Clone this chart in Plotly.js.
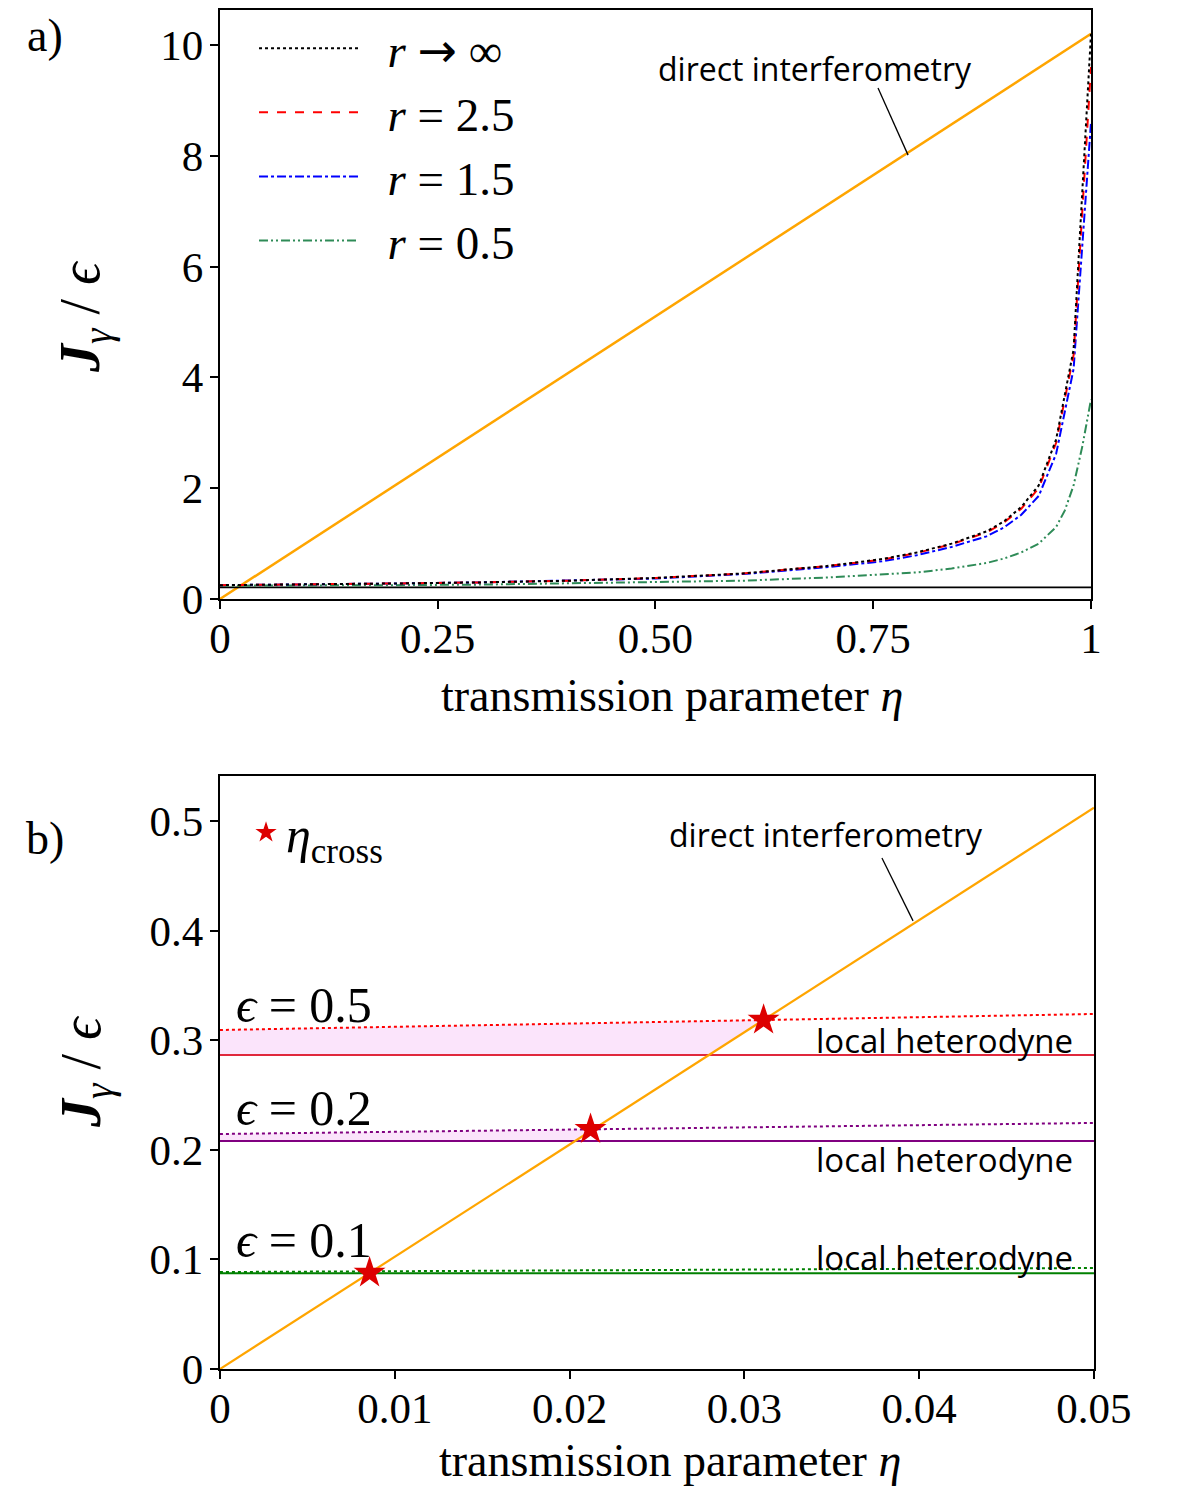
<!DOCTYPE html>
<html>
<head>
<meta charset="utf-8">
<script src="https://cdn.plot.ly/plotly-3.0.1.min.js"></script>
<style>
  html, body { margin: 0; padding: 0; background: #fff; }
  #plot { width: 1196px; height: 1486px; }
</style>
</head>
<body>
<div id="plot"></div>
<script>
// ---- panel a) data (read off the figure) ----
const etaA = [0, 0.1, 0.2, 0.3, 0.4, 0.5, 0.6, 0.7, 0.76, 0.8, 0.84, 0.88, 0.9, 0.92, 0.94, 0.96, 0.98, 1.0];
const rInf = [0.25, 0.26, 0.28, 0.30, 0.33, 0.38, 0.46, 0.60, 0.72, 0.84, 1.0, 1.22, 1.40, 1.66, 2.05, 2.88, 4.5, 10.2];
const r25  = [0.25, 0.26, 0.28, 0.30, 0.33, 0.38, 0.46, 0.60, 0.71, 0.83, 0.99, 1.20, 1.38, 1.63, 2.0, 2.82, 4.4, 9.6];
const r15  = [0.25, 0.26, 0.28, 0.30, 0.33, 0.37, 0.45, 0.58, 0.68, 0.79, 0.94, 1.13, 1.29, 1.52, 1.86, 2.62, 4.15, 8.6];
const etaG = [0, 0.1, 0.2, 0.3, 0.4, 0.5, 0.6, 0.7, 0.76, 0.8, 0.84, 0.88, 0.9, 0.92, 0.94, 0.96, 0.97, 0.98, 0.99, 1.0];
const r05  = [0.24, 0.24, 0.25, 0.26, 0.28, 0.30, 0.33, 0.39, 0.44, 0.48, 0.55, 0.65, 0.73, 0.84, 1.0, 1.3, 1.6, 2.05, 2.75, 3.6];
const directEtaA = [0, 1];
const directA = [0, 10.2];
const localA = [0.21, 0.21];

// ---- panel b) data ----
const etaB = [0, 0.05];
const directB = [0, 0.512];
const dot05 = [0.3093, 0.3239], solid05 = [0.2865, 0.2865];
const dot02 = [0.2144, 0.2245], solid02 = [0.208, 0.208];
const dot01 = [0.0885, 0.0922], solid01 = [0.0873, 0.0873];
const fill05x = [0, 0.02798, 0.0311, 0], fill05y = [0.2865, 0.2865, 0.3184, 0.3093];
const fill02x = [0, 0.0203, 0.0212, 0], fill02y = [0.208, 0.208, 0.2187, 0.2144];
const crossEta = [0.0311, 0.0212, 0.00856];
const crossVal = [0.3184, 0.2187, 0.0877];

const serif = 'Liberation Serif, Times New Roman, serif';
const sans = 'Open Sans, Lato, sans-serif';
const green2 = '#2e8b57';
const arrow = '<span style="font-family:DejaVu Sans">→</span>';

const traces = [
  { x: directEtaA, y: directA, mode: 'lines', line: { color: '#ffa500', width: 2.5 }, showlegend: false },
  { x: directEtaA, y: localA, mode: 'lines', line: { color: 'black', width: 1.8 }, showlegend: false },
  { x: etaG, y: r05, mode: 'lines', name: '  <i>r</i> = 0.5', legendrank: 4,
    line: { color: green2, width: 2, dash: '9px,3px,2px,3px,2px,3px' } },
  { x: etaA, y: r15, mode: 'lines', name: '  <i>r</i> = 1.5', legendrank: 3,
    line: { color: 'blue', width: 2, dash: 'dashdot' } },
  { x: etaA, y: r25, mode: 'lines', name: '  <i>r</i> = 2.5', legendrank: 2,
    line: { color: 'red', width: 2, dash: 'dash' } },
  { x: etaA, y: rInf, mode: 'lines', name: '  <i>r</i> ' + arrow + ' ∞', legendrank: 1,
    line: { color: 'black', width: 2, dash: 'dot' } },

  // panel b
  { x: fill05x, y: fill05y, xaxis: 'x2', yaxis: 'y2', mode: 'lines', fill: 'toself',
    fillcolor: 'rgba(238,130,238,0.22)', line: { width: 0 }, showlegend: false },
  { x: fill02x, y: fill02y, xaxis: 'x2', yaxis: 'y2', mode: 'lines', fill: 'toself',
    fillcolor: 'rgba(238,130,238,0.22)', line: { width: 0 }, showlegend: false },
  { x: etaB, y: solid05, xaxis: 'x2', yaxis: 'y2', mode: 'lines', line: { color: '#e0283c', width: 2 }, showlegend: false },
  { x: etaB, y: dot05, xaxis: 'x2', yaxis: 'y2', mode: 'lines', line: { color: 'red', width: 2, dash: 'dot' }, showlegend: false },
  { x: etaB, y: solid02, xaxis: 'x2', yaxis: 'y2', mode: 'lines', line: { color: 'purple', width: 2 }, showlegend: false },
  { x: etaB, y: dot02, xaxis: 'x2', yaxis: 'y2', mode: 'lines', line: { color: 'purple', width: 2, dash: 'dot' }, showlegend: false },
  { x: etaB, y: solid01, xaxis: 'x2', yaxis: 'y2', mode: 'lines', line: { color: 'green', width: 2 }, showlegend: false },
  { x: etaB, y: dot01, xaxis: 'x2', yaxis: 'y2', mode: 'lines', line: { color: 'green', width: 2, dash: 'dot' }, showlegend: false },
  { x: etaB, y: directB, xaxis: 'x2', yaxis: 'y2', mode: 'lines', line: { color: '#ffa500', width: 2.2 }, showlegend: false },
  { x: crossEta, y: crossVal, xaxis: 'x2', yaxis: 'y2', mode: 'markers', name: '<i>η</i><sub>cross</sub>',
    legend: 'legend2', marker: { symbol: 'star', size: 24, color: '#dd0000' } }
];

function axisStyle(extra) {
  return Object.assign({
    showline: true, mirror: true, linecolor: 'black', linewidth: 2,
    ticks: 'outside', ticklen: 8, tickwidth: 2, tickcolor: 'black',
    showgrid: false, zeroline: false,
    tickfont: { family: serif, size: 43, color: 'black' }
  }, extra);
}

const yTitleText = '<b><i>J</i></b><sub><i>γ</i></sub> / <i>ϵ</i>';
const xTitleText = 'transmission parameter <i>η</i>';

const layout = {
  width: 1196, height: 1486,
  margin: { l: 0, r: 0, t: 0, b: 0 },
  paper_bgcolor: 'white', plot_bgcolor: 'white',
  font: { family: serif, color: 'black' },
  xaxis: axisStyle({ domain: [0.1839, 0.9122], range: [0, 1], anchor: 'y', ticklabelstandoff: -8,
    tickvals: [0, 0.25, 0.5, 0.75, 1], ticktext: ['0', '0.25', '0.50', '0.75', '1'] }),
  yaxis: axisStyle({ domain: [0.5969, 0.9933], range: [0, 10.63], anchor: 'x', ticklabelstandoff: -2,
    tickvals: [0, 2, 4, 6, 8, 10] }),
  xaxis2: axisStyle({ domain: [0.1839, 0.9147], range: [0, 0.05], anchor: 'y2', ticklabelstandoff: -8,
    tickvals: [0, 0.01, 0.02, 0.03, 0.04, 0.05], ticktext: ['0', '0.01', '0.02', '0.03', '0.04', '0.05'] }),
  yaxis2: axisStyle({ domain: [0.0787, 0.4778], range: [0, 0.541], anchor: 'x2', ticklabelstandoff: -2,
    tickvals: [0, 0.1, 0.2, 0.3, 0.4, 0.5], ticktext: ['0', '0.1', '0.2', '0.3', '0.4', '0.5'] }),
  legend: {
    x: 0.2124, y: 0.9925, xanchor: 'left', yanchor: 'top',
    bgcolor: 'rgba(0,0,0,0)', borderwidth: 0, itemwidth: 100,
    tracegroupgap: 0,
    font: { family: serif, size: 47, color: 'black' }
  },
  legend2: {
    x: 0.2057, y: 0.466, xanchor: 'left', yanchor: 'top',
    bgcolor: 'rgba(0,0,0,0)', borderwidth: 0,
    font: { family: serif, size: 50, color: 'black' }
  },
  shapes: [
    { type: 'line', xref: 'x', yref: 'y', x0: 0.7555, y0: 9.22, x1: 0.79, y1: 8.01, line: { color: 'black', width: 1.3 } },
    { type: 'line', xref: 'x2', yref: 'y2', x0: 0.03787, y0: 0.4662, x1: 0.03965, y1: 0.4088, line: { color: 'black', width: 1.3 } }
  ],
  annotations: [
    { text: 'a)', xref: 'paper', yref: 'paper', x: 45 / 1196, y: 1 - 35 / 1486, xanchor: 'center', yanchor: 'middle',
      showarrow: false, font: { family: serif, size: 46 } },
    { text: 'b)', xref: 'paper', yref: 'paper', x: 45 / 1196, y: 1 - 838 / 1486, xanchor: 'center', yanchor: 'middle',
      showarrow: false, font: { family: serif, size: 46 } },
    { text: xTitleText, xref: 'paper', yref: 'paper', x: 672 / 1196, y: 1 - 695 / 1486, xanchor: 'center', yanchor: 'middle',
      showarrow: false, font: { family: serif, size: 46 } },
    { text: xTitleText, xref: 'paper', yref: 'paper', x: 670 / 1196, y: 1 - 1460 / 1486, xanchor: 'center', yanchor: 'middle',
      showarrow: false, font: { family: serif, size: 46 } },
    { text: yTitleText, xref: 'paper', yref: 'paper', x: 85 / 1196, y: 1 - 317 / 1486, xanchor: 'center', yanchor: 'middle',
      textangle: -90, showarrow: false, font: { family: serif, size: 56 } },
    { text: yTitleText, xref: 'paper', yref: 'paper', x: 85 / 1196, y: 1 - 1072 / 1486, xanchor: 'center', yanchor: 'middle',
      textangle: -90, showarrow: false, font: { family: serif, size: 56 } },
    { text: 'direct interferometry', xref: 'x', yref: 'y', x: 0.683, y: 9.58, showarrow: false,
      font: { family: sans, size: 32, color: 'black' } },
    { text: 'direct interferometry', xref: 'x2', yref: 'y2', x: 0.03467, y: 0.488, showarrow: false,
      font: { family: sans, size: 32, color: 'black' } },
    { text: '<i>ϵ</i> = 0.5', xref: 'x2', yref: 'y2', x: 0.0008, y: 0.332, xanchor: 'left', showarrow: false,
      font: { family: serif, size: 50 } },
    { text: '<i>ϵ</i> = 0.2', xref: 'x2', yref: 'y2', x: 0.0008, y: 0.238, xanchor: 'left', showarrow: false,
      font: { family: serif, size: 50 } },
    { text: '<i>ϵ</i> = 0.1', xref: 'x2', yref: 'y2', x: 0.0008, y: 0.1177, xanchor: 'left', showarrow: false,
      font: { family: serif, size: 50 } },
    { text: 'local heterodyne', xref: 'x2', yref: 'y2', x: 0.0489, y: 0.300, xanchor: 'right', showarrow: false,
      font: { family: sans, size: 33 } },
    { text: 'local heterodyne', xref: 'x2', yref: 'y2', x: 0.0489, y: 0.1907, xanchor: 'right', showarrow: false,
      font: { family: sans, size: 33 } },
    { text: 'local heterodyne', xref: 'x2', yref: 'y2', x: 0.0489, y: 0.1013, xanchor: 'right', showarrow: false,
      font: { family: sans, size: 33 } }
  ]
};

Plotly.newPlot('plot', traces, layout, { displayModeBar: false, staticPlot: true });
</script>
</body>
</html>
